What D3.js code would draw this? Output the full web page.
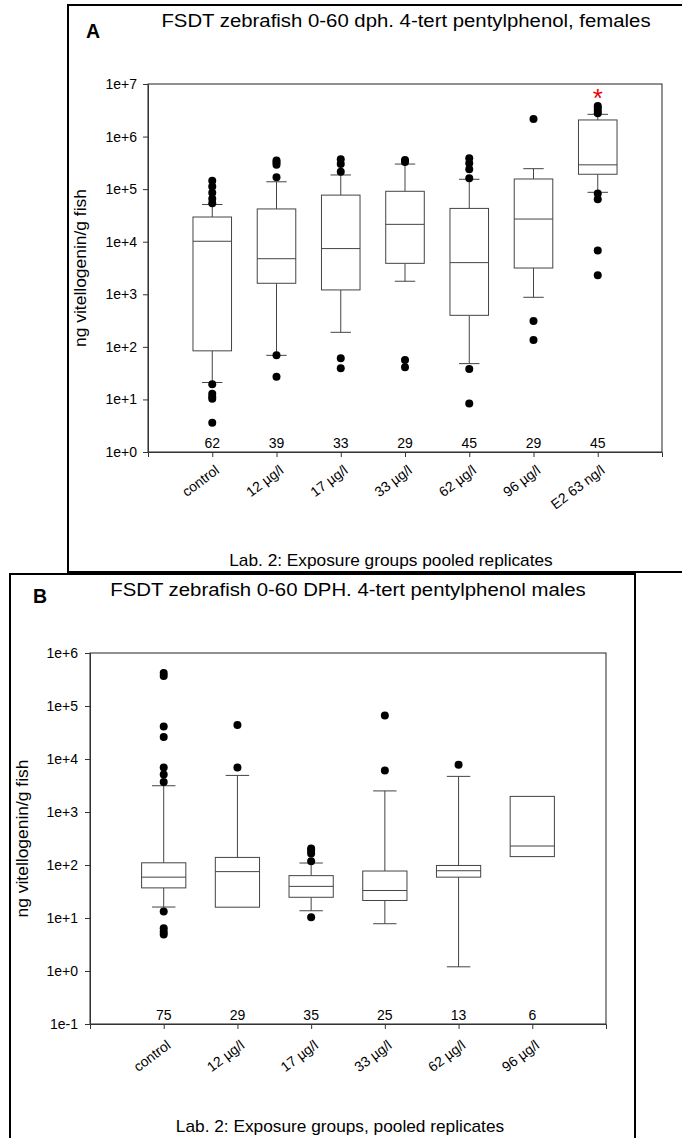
<!DOCTYPE html>
<html>
<head>
<meta charset="utf-8">
<script src="https://cdn.jsdelivr.net/npm/d3@7"></script>
<style>
  body { margin: 0; background: #fff; }
  text { font-family: 'Liberation Sans', Arial, sans-serif; fill: #000; }
</style>
</head>
<body>
<div id="chart"></div>
<script>
/* global d3 */

// Panel A: females (ng vitellogenin/g fish)
const groupsA = ['control', '12 µg/l', '17 µg/l', '33 µg/l', '62 µg/l', '96 µg/l', 'E2 63 ng/l']
const nA = [62, 39, 33, 29, 45, 29, 45]
const lowA = [21, 69, 189, 1770, 48, 877, 87000]
const q1A = [84, 1620, 1210, 3880, 398, 3160, 192000]
const medA = [10200, 4750, 7400, 21400, 4000, 27000, 290000]
const q3A = [29500, 42000, 77000, 91000, 43000, 156000, 2070000]
const highA = [51000, 138000, 186000, 300000, 154000, 245000, 2650000]
const outA = [
  [145000, 112000, 85000, 66000, 54000, 19.4, 12.8, 11.2, 10.3, 3.6],
  [350000, 320000, 290000, 168000, 69, 27],
  [370000, 300000, 215000, 61, 39],
  [360000, 330000, 56, 41],
  [386000, 310000, 239000, 161000, 38, 8.4],
  [2160000, 310, 135],
  [3800000, 3500000, 3100000, 2770000, 83000, 64000, 6800, 2300]
]
const sigA = ['', '', '', '', '', '', '*']
const ticksA = [1e0, 1e1, 1e2, 1e3, 1e4, 1e5, 1e6, 1e7]

// Panel B: males
const groupsB = ['control', '12 µg/l', '17 µg/l', '33 µg/l', '62 µg/l', '96 µg/l']
const nB = [75, 29, 35, 25, 13, 6]
const lowB = [16.1, 16, 13.7, 7.8, 1.2, 144]
const q1B = [37, 16, 24.6, 21.4, 59, 144]
const medB = [59, 75, 39.5, 33, 78, 228]
const q3B = [110, 139, 63, 77, 98, 1970]
const highB = [3130, 4900, 109, 2500, 4700, 1970]
const outB = [
  [420000, 370000, 41000, 26000, 6900, 5100, 3700, 13.2, 6.4, 5.5, 4.9],
  [44000, 6900],
  [205, 185, 165, 118, 10.3],
  [66500, 6100],
  [7800],
  []
]
const sigB = ['', '', '', '', '', '']
const ticksB = [1e-1, 1e0, 1e1, 1e2, 1e3, 1e4, 1e5, 1e6]

const width = 682,
  height = 1138

let svg = d3.select('#chart')
  .append('svg')
  .attr('width', width)
  .attr('height', height)

// text helper; the bigger lettering in the original is a little wide, so allow a baseline stretch
let label = (g, str, x, y, size, opts = {}) => {
  const sx = opts.stretch || 1
  let t = g.append('text')
    .attr('transform', `translate(${x},${y})` + (opts.rotate ? ` rotate(${opts.rotate})` : '') + (sx !== 1 ? ` scale(${sx},1)` : ''))
    .attr('text-anchor', opts.anchor || 'middle')
    .style('font-size', size + 'px')
    .text(str)
  if (opts.bold) t.style('font-weight', 'bold')
  if (opts.fill) t.style('fill', opts.fill)
  return t
}

let expFormat = (d) => {
  const e = Math.round(Math.log10(d))
  return e >= 0 ? '1e+' + e : '1e' + e
}

let drawPanel = (p) => {
  const g = svg.append('g')

  // outer panel frame
  g.append('rect')
    .attr('x', p.frame[0]).attr('y', p.frame[1])
    .attr('width', p.frame[2]).attr('height', p.frame[3])
    .attr('fill', 'none')
    .attr('stroke', '#000')
    .attr('stroke-width', 2)

  const xScale = d3.scaleLinear()
    .domain([0, p.groups.length + 1])
    .range([p.left, p.right])

  const yScale = d3.scaleLog()
    .domain([p.ticks[0], p.ticks[p.ticks.length - 1]])
    .range([p.bottom, p.top])

  const step = xScale(1) - xScale(0)
  const boxW = step * 0.6
  const capW = boxW * 0.53

  // plot frame top / right
  g.append('rect')
    .attr('x', p.left).attr('y', p.top)
    .attr('width', p.right - p.left).attr('height', p.bottom - p.top)
    .attr('fill', 'none')
    .attr('stroke', '#222')

  const yAxis = d3.axisLeft(yScale)
    .tickValues(p.ticks)
    .tickFormat(expFormat)
    .tickSize(5)
    .tickSizeOuter(0)

  const yg = g.append('g')
    .attr('transform', `translate(${p.left},0)`)
    .call(yAxis)
  yg.selectAll('path, line').attr('stroke', '#333')
  yg.selectAll('text')
    .attr('x', p.tickPad)
    .style('font-size', '14px')
    .style('font-family', "'Liberation Sans', Arial, sans-serif")
    .attr('fill', '#000')

  const xAxis = d3.axisBottom(xScale)
    .tickValues(d3.range(1, p.groups.length + 1))
    .tickFormat('')
    .tickSize(5)
    .tickSizeOuter(5)

  const xg = g.append('g')
    .attr('transform', `translate(0,${p.bottom})`)
    .call(xAxis)
  xg.selectAll('path, line').attr('stroke', '#333')

  // boxes
  p.groups.forEach((name, i) => {
    const cx = xScale(i + 1)
    const bg = g.append('g').attr('stroke', '#444').attr('fill', 'none')

    if (p.high[i] > p.q3[i]) {
      bg.append('line')
        .attr('x1', cx).attr('x2', cx)
        .attr('y1', yScale(p.q3[i])).attr('y2', yScale(p.high[i]))
      bg.append('line')
        .attr('x1', cx - capW / 2).attr('x2', cx + capW / 2)
        .attr('y1', yScale(p.high[i])).attr('y2', yScale(p.high[i]))
    }
    if (p.low[i] < p.q1[i]) {
      bg.append('line')
        .attr('x1', cx).attr('x2', cx)
        .attr('y1', yScale(p.q1[i])).attr('y2', yScale(p.low[i]))
      bg.append('line')
        .attr('x1', cx - capW / 2).attr('x2', cx + capW / 2)
        .attr('y1', yScale(p.low[i])).attr('y2', yScale(p.low[i]))
    }
    bg.append('rect')
      .attr('x', cx - boxW / 2)
      .attr('y', yScale(p.q3[i]))
      .attr('width', boxW)
      .attr('height', yScale(p.q1[i]) - yScale(p.q3[i]))
      .attr('fill', '#fff')
    bg.append('line')
      .attr('x1', cx - boxW / 2).attr('x2', cx + boxW / 2)
      .attr('y1', yScale(p.med[i])).attr('y2', yScale(p.med[i]))

    g.selectAll(null)
      .data(p.out[i])
      .enter()
      .append('circle')
      .attr('cx', cx)
      .attr('cy', (d) => yScale(d))
      .attr('r', 4)
      .attr('fill', '#000')

    if (p.sig[i]) {
      label(g, p.sig[i], cx, yScale(p.sigLevel) + 15, 26, { fill: '#e00' })
    }

    label(g, p.n[i], cx, p.nY, 14)
    label(g, name, cx + 8, p.bottom + p.catPad, 14, { rotate: -37, anchor: 'end' })
  })

  label(g, 'ng vitellogenin/g fish', p.yTitleX, (p.top + p.bottom) / 2, 16, { rotate: -90, stretch: 1.09 })
  label(g, p.title, p.titleX, p.titleY, 18.5, { stretch: 1.1 })
  label(g, p.letter, p.letterX, p.letterY, 19.5, { anchor: 'start', bold: true })
  label(g, p.caption, p.captionX, p.captionY, 16, { stretch: 1.08 })
}

drawPanel({
  frame: [68, 5, 700, 567],
  groups: groupsA, n: nA, low: lowA, q1: q1A, med: medA, q3: q3A, high: highA, out: outA,
  sig: sigA, sigLevel: 7e6, ticks: ticksA,
  left: 148, right: 662, top: 84, bottom: 452,
  tickPad: -11, nY: 448, catPad: 20, yTitleX: 86,
  title: 'FSDT zebrafish 0-60 dph. 4-tert pentylphenol, females', titleX: 406, titleY: 27,
  letter: 'A', letterX: 86, letterY: 38,
  caption: 'Lab. 2: Exposure groups pooled replicates', captionX: 391, captionY: 566
})

drawPanel({
  frame: [10, 574, 625, 600],
  groups: groupsB, n: nB, low: lowB, q1: q1B, med: medB, q3: q3B, high: highB, out: outB,
  sig: sigB, sigLevel: 1e6, ticks: ticksB,
  left: 90, right: 606, top: 653, bottom: 1024,
  tickPad: -12, nY: 1020, catPad: 23, yTitleX: 28,
  title: 'FSDT zebrafish 0-60 DPH. 4-tert pentylphenol males', titleX: 348, titleY: 596,
  letter: 'B', letterX: 33, letterY: 603,
  caption: 'Lab. 2: Exposure groups, pooled replicates', captionX: 340, captionY: 1132
})
</script>
</body>
</html>
